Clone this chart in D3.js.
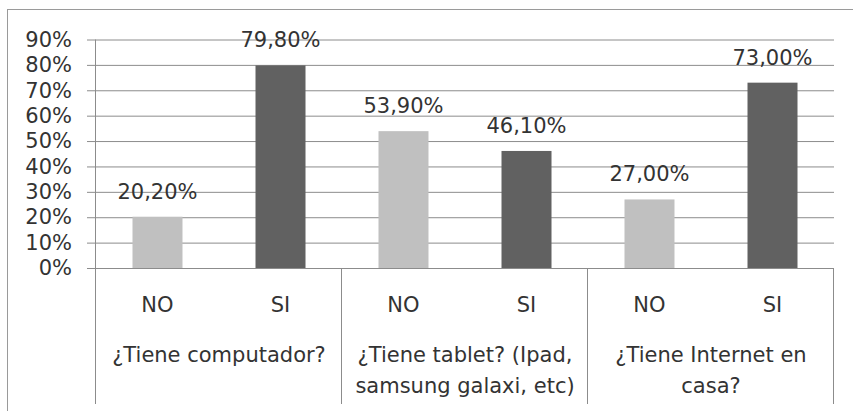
<!DOCTYPE html>
<html><head><meta charset="utf-8">
<script src="https://cdn.jsdelivr.net/npm/d3@7"></script>
<style>body{margin:0;background:#fff}svg{display:block}text{font-family:"DejaVu Sans",sans-serif;fill:#333}</style>
</head><body><svg id="c" width="853" height="411"></svg>
<script>
const groups = [["¿Tiene computador?"], ["¿Tiene tablet? (Ipad,", "samsung galaxi, etc)"], ["¿Tiene Internet en", "casa?"]];
const answers = ["NO", "SI"];
const noValues = [0.202, 0.539, 0.27];
const siValues = [0.798, 0.461, 0.73];
const yTicks = [0, 0.1, 0.2, 0.3, 0.4, 0.5, 0.6, 0.7, 0.8, 0.9];
const colors = {NO: "#c0c0c0", SI: "#616161"};

const svg = d3.select("#c");
const L = 96, R = 834, T = 39.5, B = 268, BOT = 404;
const FS = 21;
const y = d3.scaleLinear().domain([0, 0.9]).range([B, T]);
const gx = d3.scaleBand().domain(d3.range(groups.length)).range([L, R]);
const ix = d3.scaleBand().domain(answers).range([0, gx.bandwidth()]).paddingInner(0.5935).paddingOuter(0.2967);
const fmt = v => (v * 100).toFixed(2).replace(".", ",") + "%";

// outer border
svg.append("rect").attr("x", 7.5).attr("y", 9.5).attr("width", 860).attr("height", 420)
  .attr("fill", "none").attr("stroke", "#9a9a9a");

// gridlines + y axis
const yAxis = d3.axisLeft(y).tickValues(yTicks).tickSize(9).tickFormat(d => Math.round(d * 100) + "%");
const ya = svg.append("g").attr("transform", `translate(${L},0)`).call(yAxis);
ya.select(".domain").attr("stroke", "#8c8c8c").attr("d", `M-0.5,${B}V${T}`);
ya.selectAll(".tick line").attr("stroke", "#8c8c8c").attr("x2", R - L).attr("x1", -9);
ya.selectAll(".tick text").attr("x", -24).attr("font-size", FS).attr("fill", "#333").attr("font-family", "DejaVu Sans");

// bars
const data = [];
groups.forEach((g, i) => { data.push({g: i, a: "NO", v: noValues[i]}); data.push({g: i, a: "SI", v: siValues[i]}); });
svg.selectAll("rect.bar").data(data).join("rect").attr("class", "bar")
  .attr("x", d => gx(d.g) + ix(d.a)).attr("width", ix.bandwidth())
  .attr("y", d => y(d.v)).attr("height", d => y(0) - y(d.v))
  .attr("fill", d => colors[d.a]);
svg.selectAll("text.lbl").data(data).join("text").attr("class", "lbl")
  .attr("x", d => gx(d.g) + ix(d.a) + ix.bandwidth() / 2).attr("y", d => y(d.v) - 18)
  .attr("text-anchor", "middle").attr("font-size", FS).text(d => fmt(d.v));

// x axis
svg.append("line").attr("x1", L - 9).attr("x2", R).attr("y1", B + 0.5).attr("y2", B + 0.5).attr("stroke", "#8c8c8c");
svg.selectAll("line.sep").data(d3.range(groups.length + 1)).join("line").attr("class", "sep")
  .attr("x1", i => Math.round(L + i * gx.bandwidth()) - 0.5).attr("x2", i => Math.round(L + i * gx.bandwidth()) - 0.5)
  .attr("y1", B).attr("y2", BOT).attr("stroke", "#8c8c8c");
svg.selectAll("text.ans").data(data).join("text").attr("class", "ans")
  .attr("x", d => gx(d.g) + ix(d.a) + ix.bandwidth() / 2).attr("y", 312)
  .attr("text-anchor", "middle").attr("font-size", FS).text(d => d.a);
groups.forEach((lines, i) => {
  lines.forEach((t, j) => {
    svg.append("text").attr("x", gx(i) + gx.bandwidth() / 2).attr("y", 362 + j * 31)
      .attr("text-anchor", "middle").attr("font-size", FS).text(t);
  });
});
</script></body></html>
